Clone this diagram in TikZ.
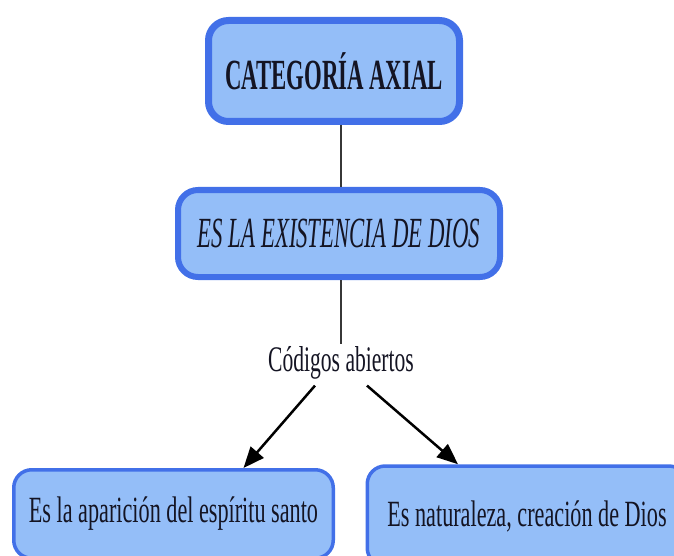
\documentclass[tikz,border=0pt]{standalone}
\usepackage{fontspec}
\setmainfont{Liberation Serif}
\newfontfamily\narrowA[FakeStretch=0.6]{Liberation Serif}
\newfontfamily\narrowB[FakeStretch=0.53]{Liberation Serif}
\usetikzlibrary{arrows.meta}
\definecolor{boxfill}{RGB}{148,190,248}
\definecolor{boxline}{RGB}{66,112,232}
\definecolor{txt}{RGB}{20,20,35}
\definecolor{conn}{RGB}{55,55,55}
\tikzset{
  basebox/.style={draw=boxline, fill=boxfill, inner sep=0pt, text=txt, align=center},
  topbox/.style={basebox, line width=7pt, rounded corners=20pt, minimum width=251pt, minimum height=101pt, font=\fontsize{43}{50}\selectfont},
  midbox/.style={basebox, line width=6pt, rounded corners=20pt, minimum width=322pt, minimum height=87pt, font=\fontsize{43}{50}\selectfont},
  lowbox/.style={basebox, line width=3.5pt, rounded corners=18pt, minimum width=319.5pt, font=\fontsize{37}{44}\selectfont},
  lab/.style={inner sep=2pt, text=txt, font=\fontsize{36}{42}\selectfont},
  connline/.style={draw=conn, line width=2.2pt},
  arr/.style={draw=black, line width=2.5pt, -{Triangle[length=21pt,width=17pt]}}
}
\begin{document}
\begin{tikzpicture}[x=1pt,y=-1pt]
\useasboundingbox (0,0) rectangle (674,556);
\clip (0,0) rectangle (674,556);
\node[topbox] (cat) at (334,71) {\narrowB\bfseries CATEGORÍA AXIAL};
\node[midbox] (exist) at (339,233.5) {\narrowB\itshape ES LA EXISTENCIA DE DIOS};
\node[lab] (cod) at (341,363) {\narrowA Códigos abiertos};
\node[lowbox, minimum height=88.5pt] (bl) at (173.5,514) {\narrowA Es la aparición del espíritu santo};
\node[lowbox, minimum height=100pt] (br) at (527,516) {\narrowA Es naturaleza, creación de Dios};
\draw[connline] (cat.south -| cod) -- (exist.north -| cod);
\draw[connline] (exist.south -| cod) -- (cod.north);
\draw[arr] ([xshift=-26pt,yshift=-4pt]cod.south) -- ([xshift=70pt]bl.north);
\draw[arr] ([xshift=26pt,yshift=-4pt]cod.south) -- ([xshift=-69pt]br.north);
\end{tikzpicture}
\end{document}
